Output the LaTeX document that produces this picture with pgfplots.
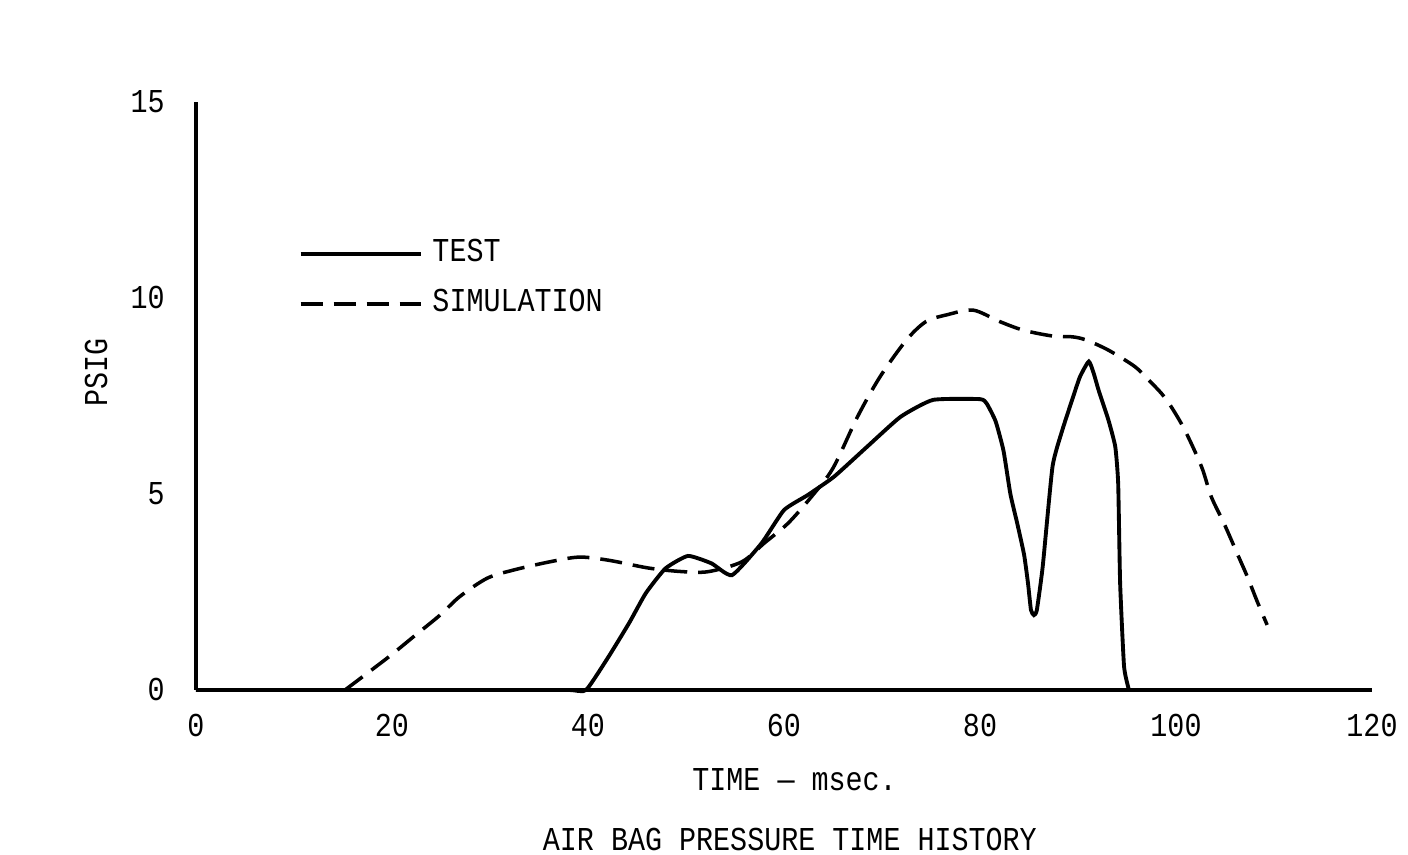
\documentclass[border=0pt]{standalone}
\usepackage{pgfplots}
\pgfplotsset{compat=1.18}
\usepackage{fontspec}
\newfontfamily\tw[FakeStretch=0.85]{Liberation Mono}
\newcommand{\twf}{\tw\fontsize{9.5}{11}\selectfont}
\begin{document}
\begin{tikzpicture}
\useasboundingbox (-1.96cm,-1.65cm) rectangle (12.12cm,6.90cm);
\begin{axis}[
  at={(0,0)}, anchor=south west,
  scale only axis, width=11.76cm, height=5.88cm,
  xmin=0, xmax=120, ymin=0, ymax=15,
  axis x line*=bottom, axis y line*=left,
  axis line style={line width=1.1pt},
  xtick={0,20,...,120}, ytick={0,5,10,15},
  major tick length=0pt,
  /pgf/number format/assume math mode=true,
  tick label style={font=\twf},
  xticklabel style={yshift=-0.12cm},
  yticklabel style={xshift=-0.19cm},
  xlabel={TIME — msec.},
  xlabel style={font=\twf, at={(axis description cs:0.509,0)}, anchor=center, yshift=-0.9cm},
  clip=false,
  legend image code/.code={\draw[#1] (0cm,0cm) -- (1.2cm,0cm);},
  legend cell align=left,
  legend style={at={(axis cs:10.4,11.55)}, anchor=north west, draw=none, fill=none,
    inner sep=0pt, row sep=1.8mm, column sep=0.5mm,
    nodes={font=\twf, inner sep=0.5mm, text height=1.9mm, text depth=0.3mm}},
]
\addplot[black, line width=1.1pt, smooth, tension=0.3] coordinates {
(0,0) (10,0) (20,0) (30,0) (38,0) (39.8,0) (42.1,0.85) (44.2,1.71) (45.9,2.47) (47.9,3.1) (50.2,3.42)
(52.6,3.23) (54.7,2.93) (57.7,3.74) (60.0,4.59) (62.4,4.97) (65.1,5.44)
(68.5,6.21) (71.9,6.97) (75.2,7.40) (80.0,7.42) (80.7,7.30) (81.6,6.85)
(82.4,6.10) (83.1,5.00) (83.8,4.25) (84.5,3.45) (84.9,2.72) (85.2,2.04)
(85.5,1.91) (85.8,2.04) (86.4,3.15) (87.4,5.70) (88.4,6.63) (89.4,7.40)
(90.2,7.99) (91.1,8.38) (91.6,8.08) (92.1,7.65) (93.1,6.89) (93.8,6.21)
(94.1,5.27) (94.3,2.72) (94.7,0.6) (95.2,0)
};
\addlegendentry{TEST}
\addplot[black, line width=1.0pt, dash pattern=on 0.22cm off 0.11cm, smooth, tension=0.5] coordinates {
(15.2,0) (17.7,0.47) (19.9,0.89) (22.2,1.36) (24.9,1.91) (26.9,2.38)
(29.7,2.85) (32.4,3.06) (36.1,3.27) (39.1,3.39) (42.1,3.31) (46.2,3.11)
(49.6,3.02) (52.3,3.02) (55.7,3.27) (58.0,3.75) (60.4,4.25) (62.8,4.93)
(65.0,5.66) (67.5,6.97) (69.8,7.99) (72.5,8.93) (74.5,9.40) (76.6,9.57)
(79.3,9.69) (82.0,9.40) (84.4,9.18) (87.4,9.03) (89.4,9.01) (90.8,8.93)
(93.1,8.67) (95.8,8.25) (97.2,7.91) (98.5,7.57) (99.5,7.23) (100.9,6.63)
(102.6,5.70) (103.6,4.93) (104.9,4.25) (106.3,3.45) (107.3,2.88)
(108.3,2.25) (109.3,1.66)
};
\addlegendentry{SIMULATION}
\node[font=\twf, rotate=90] at ([xshift=-1.0cm]axis description cs:0,0.54) {PSIG};
\node[font=\twf] at ([yshift=-1.5cm]axis description cs:0.505,0) {AIR BAG PRESSURE TIME HISTORY};
\end{axis}
\end{tikzpicture}
\end{document}
